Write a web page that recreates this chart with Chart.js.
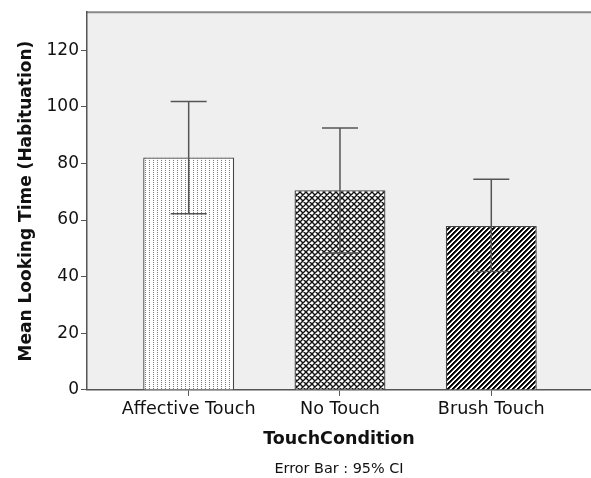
<!DOCTYPE html>
<html><head><meta charset="utf-8">
<script src="https://cdn.jsdelivr.net/npm/chart.js@4/dist/chart.umd.min.js"></script>
<style>html,body{margin:0;padding:0;background:#fff;} #wrap{width:591px;height:478px;position:relative;}</style>
</head><body><div id="wrap"><canvas id="c"></canvas></div>
<script>
const categories = ['Affective Touch', 'No Touch', 'Brush Touch'];
const meanValues = [82.1, 70.5, 57.9];
const ciLower = [62.2, 48.4, 41.8];
const ciUpper = [101.9, 92.5, 74.4];
const yTickValues = [0, 20, 40, 60, 80, 100, 120];
const yTitle = 'Mean Looking Time (Habituation)';
const xTitle = 'TouchCondition';
const footnote = 'Error Bar : 95% CI';

const FONT = '"DejaVu Sans", sans-serif';

function makeTile(w, h, draw) {
  const c = document.createElement('canvas');
  c.width = w; c.height = h;
  const g = c.getContext('2d');
  g.fillStyle = '#fff'; g.fillRect(0, 0, w, h);
  draw(g, w, h);
  return document.getElementById('c').getContext('2d').createPattern(c, 'repeat');
}
const dotPattern = makeTile(4, 2, (g) => { g.fillStyle = '#7a7a7a'; g.fillRect(1, 0, 1, 1); });
const crossPattern = makeTile(6, 6, (g) => {
  g.strokeStyle = '#111'; g.lineWidth = 1.4;
  g.beginPath();
  g.moveTo(-1, -1); g.lineTo(7, 7);
  g.moveTo(7, -1); g.lineTo(-1, 7);
  g.moveTo(-1, 5); g.lineTo(1, 7);
  g.moveTo(5, -1); g.lineTo(7, 1);
  g.moveTo(5, 7); g.lineTo(7, 5);
  g.moveTo(-1, 1); g.lineTo(1, -1);
  g.stroke();
});
const stripePattern = makeTile(5, 5, (g) => {
  for (let x = 0; x < 5; x++) for (let y = 0; y < 5; y++) {
    const k = (x + y) % 5;
    if (k === 0 || k === 1) { g.fillStyle = '#000'; g.fillRect(x, y, 1, 1); }
    else if (k === 2) { g.fillStyle = '#444'; g.fillRect(x, y, 1, 1); }
  }
});

const bgPlugin = {
  id: 'bg',
  beforeDraw(chart) {
    const {ctx, chartArea: a} = chart;
    ctx.save();
    ctx.fillStyle = '#efefef';
    ctx.fillRect(a.left, a.top, a.right - a.left, a.bottom - a.top);
    ctx.strokeStyle = '#888';
    ctx.lineWidth = 2;
    ctx.beginPath(); ctx.moveTo(a.left, a.top); ctx.lineTo(a.right, a.top); ctx.stroke();
    ctx.restore();
  }
};

const errPlugin = {
  id: 'err',
  afterDatasetsDraw(chart) {
    const {ctx, scales: {x, y}} = chart;
    ctx.save();
    ctx.strokeStyle = '#555';
    ctx.lineWidth = 1.5;
    for (let i = 0; i < categories.length; i++) {
      const px = x.getPixelForValue(i);
      const hi = y.getPixelForValue(ciUpper[i]);
      const lo = y.getPixelForValue(ciLower[i]);
      ctx.beginPath();
      ctx.moveTo(px, hi); ctx.lineTo(px, lo);
      ctx.moveTo(px - 18, hi); ctx.lineTo(px + 18, hi);
      ctx.moveTo(px - 18, lo); ctx.lineTo(px + 18, lo);
      ctx.stroke();
    }
    ctx.restore();
  }
};

new Chart(document.getElementById('c'), {
  type: 'bar',
  data: {
    datasets: [{
      data: categories.map((c, i) => ({x: i, y: meanValues[i]})),
      backgroundColor: [dotPattern, crossPattern, stripePattern],
      borderColor: '#444',
      borderWidth: 1.3,
      barPercentage: 0.601,
      categoryPercentage: 1
    }]
  },
  options: {
    responsive: true,
    maintainAspectRatio: false,
    animation: false,
    layout: {padding: {top: 12, left: 0, right: 0, bottom: 0}},
    plugins: {
      legend: {display: false},
      tooltip: {enabled: false},
      title: {
        display: true, position: 'bottom', fullSize: false, text: footnote, color: '#111',
        font: {family: FONT, size: 14.4, weight: 'normal', lineHeight: 1.2},
        padding: {top: 9.6, bottom: 0}
      }
    },
    scales: {
      x: {
        type: 'linear',
        offset: false,
        min: -0.672, max: 2.659,
        afterBuildTicks: (s) => { s.ticks = categories.map((c, i) => ({value: i})); },
        afterFit: (s) => { s.height = 61.2; },
        ticks: {
          callback: (v) => categories[v],
          color: '#111', font: {family: FONT, size: 17.6}, padding: 3, maxRotation: 0, autoSkip: false
        },
        grid: {display: true, offset: false, drawOnChartArea: false, drawTicks: true, tickLength: 6, color: '#555', lineWidth: 1},
        border: {display: true, color: '#555', width: 1.5},
        title: {display: true, text: xTitle, color: '#111', font: {family: FONT, size: 17.5, weight: 'bold'}, padding: {top: 0, bottom: 1}}
      },
      y: {
        min: 0, max: 133.4,
        afterBuildTicks: (s) => { s.ticks = yTickValues.map(v => ({value: v})); },
        afterFit: (s) => { s.width = 87; },
        ticks: {color: '#111', font: {family: FONT, size: 17}, padding: 2},
        grid: {display: true, drawOnChartArea: false, drawTicks: true, tickLength: 6, color: '#555', lineWidth: 1},
        border: {display: true, color: '#555', width: 1.5},
        title: {display: true, text: yTitle, color: '#111', font: {family: FONT, size: 17, weight: 'bold'}, padding: {top: 16, bottom: 0}}
      }
    }
  },
  plugins: [bgPlugin, errPlugin]
});
</script></body></html>
